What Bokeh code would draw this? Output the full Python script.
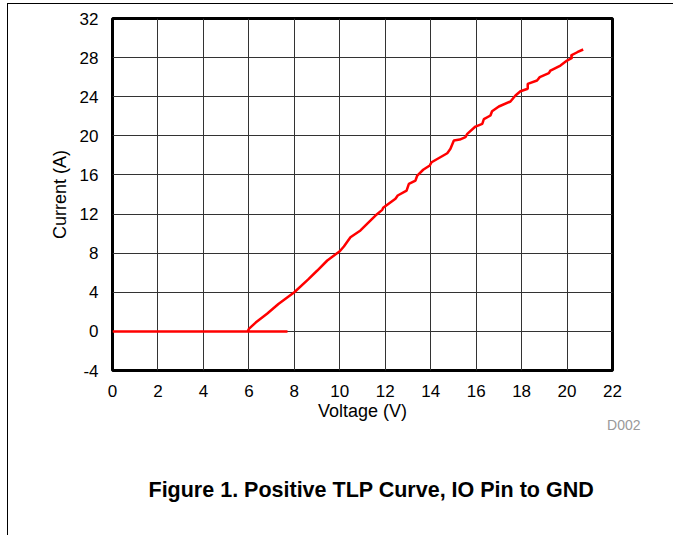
from bokeh.plotting import figure
from bokeh.models import Range1d, FixedTicker, Title
from bokeh.embed import file_html
from bokeh.resources import INLINE

# ---- data ----
voltage = [0.0, 7.7, 5.95, 6.0, 6.3, 6.8, 7.3, 8.0, 8.6, 9.0, 9.45, 10.0, 10.18,
           10.47, 10.91, 11.57, 11.87, 11.91, 12.45, 12.55, 12.94, 13.04, 13.33,
           13.41, 13.67, 13.96, 14.04, 14.73, 14.87, 15.02, 15.28, 15.53, 15.61,
           15.97, 16.27, 16.34, 16.63, 16.70, 17.00, 17.51, 17.73, 17.95, 18.27,
           18.27, 18.68, 18.80, 19.20, 19.27, 19.71, 20.00, 20.22, 20.18, 20.45, 20.71]
current = [0.0, 0.0, 0.0, 0.25, 0.9, 1.8, 2.8, 4.0, 5.3, 6.2, 7.25, 8.2, 8.68,
           9.63, 10.32, 11.85, 12.43, 12.64, 13.56, 13.9, 14.4, 15.09, 15.43,
           15.94, 16.53, 16.97, 17.3, 18.22, 18.67, 19.52, 19.62, 19.86, 20.2,
           20.95, 21.23, 21.7, 22.08, 22.52, 23.0, 23.51, 24.12, 24.56, 24.81,
           25.32, 25.66, 26.0, 26.41, 26.68, 27.19, 27.7, 27.97, 28.22, 28.55, 28.83]
x_ticks = [0, 2, 4, 6, 8, 10, 12, 14, 16, 18, 20, 22]
y_ticks = [-4, 0, 4, 8, 12, 16, 20, 24, 28, 32]

title_text = "Figure 1. Positive TLP Curve, IO Pin to GND"
x_label = "Voltage (V)"
y_label = "Current (A)"
code_text = "D002"

FONT = "Liberation Sans"

p = figure(width=665, height=531, output_backend="svg", toolbar_location=None,
           x_range=Range1d(0, 22), y_range=Range1d(-4, 32),
           min_border_left=104, min_border_right=61, min_border_top=14,
           min_border_bottom=165)
p.frame_width = 500
p.frame_height = 352
p.styles = {"margin-left": "7px", "margin-top": "3px",
            "border-left": "1px solid black", "border-top": "1px solid black"}

p.outline_line_color = "black"
p.outline_line_width = 3

for ax in (p.xaxis[0], p.yaxis[0]):
    ax.axis_line_color = None
    ax.major_tick_line_color = None
    ax.minor_tick_line_color = None
    ax.major_label_text_font = FONT
    ax.major_label_text_font_size = "17px"
    ax.major_label_text_color = "black"
    ax.axis_label_text_font = FONT
    ax.axis_label_text_font_size = "18px"
    ax.axis_label_text_font_style = "normal"
    ax.axis_label_text_color = "black"
p.xaxis[0].ticker = FixedTicker(ticks=x_ticks)
p.yaxis[0].ticker = FixedTicker(ticks=y_ticks)
p.yaxis[0].major_label_overrides = {-4: "-4"}
p.xaxis[0].major_label_standoff = 8
p.yaxis[0].major_label_standoff = 8
p.xaxis[0].axis_label = x_label
p.yaxis[0].axis_label = y_label
p.xaxis[0].axis_label_standoff = 1
p.yaxis[0].axis_label_standoff = 7

p.xgrid[0].ticker = FixedTicker(ticks=x_ticks)
p.ygrid[0].ticker = FixedTicker(ticks=y_ticks)
for g in (p.xgrid[0], p.ygrid[0]):
    g.grid_line_color = "#333333"
    g.grid_line_width = 1
    g.grid_line_alpha = 1.0

p.line(voltage, current, line_color="#FF0000", line_width=2.5)

p.add_layout(Title(text=code_text, align="right", offset=-28, standoff=-18,
                   text_font=FONT, text_font_size="14px",
                   text_font_style="normal", text_color="#999999"), "below")
p.add_layout(Title(text=title_text, align="left", offset=36, standoff=104,
                   text_font=FONT, text_font_size="21.5px",
                   text_font_style="bold", text_color="black"), "below")

open("out.html", "w").write(file_html(p, INLINE))
